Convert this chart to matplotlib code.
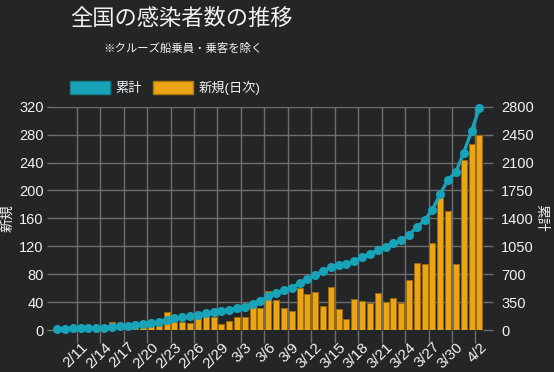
import matplotlib
matplotlib.use("Agg")
import matplotlib.pyplot as plt
from matplotlib.patches import Patch
from matplotlib.ticker import FixedLocator, FixedFormatter

plt.rcParams['font.family'] = ['Liberation Sans', 'Noto Sans CJK JP', 'DejaVu Sans']

dates = ["2/8", "2/9", "2/10", "2/11", "2/12", "2/13", "2/14", "2/15", "2/16", "2/17",
         "2/18", "2/19", "2/20", "2/21", "2/22", "2/23", "2/24", "2/25", "2/26", "2/27",
         "2/28", "2/29", "3/1", "3/2", "3/3", "3/4", "3/5", "3/6", "3/7", "3/8",
         "3/9", "3/10", "3/11", "3/12", "3/13", "3/14", "3/15", "3/16", "3/17", "3/18",
         "3/19", "3/20", "3/21", "3/22", "3/23", "3/24", "3/25", "3/26", "3/27", "3/28",
         "3/29", "3/30", "3/31", "4/1", "4/2"]

new_cases = [1, 0, 2, 1, 2, 3, 4, 12, 4, 5,
             6, 6, 10, 12, 26, 11, 12, 10, 17, 20,
             18, 8, 13, 18, 18, 33, 32, 56, 43, 32,
             27, 60, 52, 55, 35, 62, 30, 16, 45, 41,
             39, 53, 40, 46, 38, 71, 96, 94, 124, 194,
             170, 94, 243, 267, 280]

cumulative = [16, 17, 19, 20, 22, 26, 30, 40, 45, 52,
              62, 72, 85, 100, 125, 145, 160, 172, 190, 210,
              228, 238, 252, 270, 292, 330, 362, 425, 465, 500,
              530, 590, 640, 690, 735, 790, 815, 832, 870, 910,
              950, 1000, 1040, 1085, 1125, 1195, 1290, 1380, 1510, 1710,
              1885, 1980, 2225, 2495, 2785]

left_ticks = [0, 40, 80, 120, 160, 200, 240, 280, 320]
right_ticks = [0, 350, 700, 1050, 1400, 1750, 2100, 2450, 2800]

title = "全国の感染者数の推移"
subtitle = "※クルーズ船乗員・乗客を除く"
label_cum = "累計"
label_new = "新規(日次)"

bg = "#232526"
teal = "#19a3b8"
orange = "#eba414"
bar_edge = "#9a6a10"
grid_c = "#6e6e6e"
txt = "#f2f2f2"

W, H = 554, 372
fig = plt.figure(figsize=(W / 100, H / 100), dpi=100, facecolor=bg)
ax = fig.add_axes([53.3 / W, 42 / H, 430 / W, 223.3 / H])
ax.set_facecolor(bg)

x = list(range(len(dates)))
ax.bar(x, new_cases, width=0.77, color=orange, edgecolor=bar_edge, linewidth=0.7, zorder=2)
ax.set_xlim(-0.5, len(dates) - 0.5)
ax.set_ylim(left_ticks[0], left_ticks[-1])
ax.set_yticks(left_ticks)
ax.set_yticklabels([str(v) for v in left_ticks])

label_idx = [i for i in x if (i - 3) % 3 == 0 and i >= 3]
ax.xaxis.set_major_locator(FixedLocator(label_idx))
ax.xaxis.set_major_formatter(FixedFormatter([dates[i] for i in label_idx]))
ax.xaxis.set_minor_locator(FixedLocator([i - 0.5 for i in label_idx]))
ax.tick_params(axis='x', which='major', length=0, pad=7, labelsize=11, labelcolor=txt)
ax.tick_params(axis='x', which='minor', length=9, width=1, color=grid_c, direction='out')
for lab in ax.get_xticklabels():
    lab.set_rotation(45)
    lab.set_ha('right')
    lab.set_va('top')
    lab.set_rotation_mode('anchor')
ax.grid(True, which='minor', axis='x', color=grid_c, linewidth=1, zorder=0)
ax.grid(True, which='major', axis='y', color=grid_c, linewidth=1, zorder=0)
ax.set_axisbelow(True)
ax.tick_params(axis='y', length=4, width=1, color=grid_c, labelsize=10.5, labelcolor=txt, pad=3)
for s in ax.spines.values():
    s.set_visible(False)
ax.set_ylabel("新規", color=txt, fontsize=10, labelpad=3)

ax2 = ax.twinx()
ax2.plot(x, cumulative, color=teal, linewidth=2.4, marker='o', markersize=5.5,
         markerfacecolor=teal, markeredgecolor=teal, zorder=3, clip_on=False)
ax2.set_ylim(right_ticks[0], right_ticks[-1])
ax2.set_yticks(right_ticks)
ax2.set_yticklabels([str(v) for v in right_ticks])
ax2.tick_params(axis='y', length=7, width=1, color=grid_c, labelsize=10.5, labelcolor=txt, pad=6)
for s in ax2.spines.values():
    s.set_visible(False)
ax2.set_ylabel(label_cum, color=txt, fontsize=10, rotation=270, labelpad=10)

fig.text(70 / W, 1 - 18 / H, title, color=txt, fontsize=16, ha='left', va='center',
         family=['Noto Sans CJK JP', 'DejaVu Sans'])
fig.text(103 / W, 1 - 48 / H, subtitle, color=txt, fontsize=8.2, ha='left', va='center',
         family=['Noto Sans CJK JP', 'DejaVu Sans'])

handles = [Patch(facecolor=teal, edgecolor="#15818f", linewidth=1, label=label_cum),
           Patch(facecolor=orange, edgecolor="#b07a0c", linewidth=1, label=label_new)]
leg = fig.legend(handles=handles, loc='center left', bbox_to_anchor=(70 / W, 1 - 88 / H),
                 ncol=2, frameon=False, fontsize=9.5, handlelength=3.0, handleheight=1.2,
                 handletextpad=0.45, columnspacing=0.85, borderpad=0, borderaxespad=0)
for t in leg.get_texts():
    t.set_color(txt)

fig.savefig("out.png", dpi=100, facecolor=bg)
